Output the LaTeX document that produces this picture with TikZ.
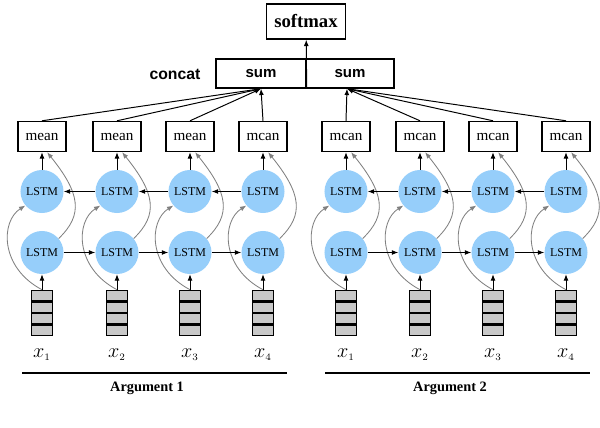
\documentclass[tikz,border=0pt]{standalone}
\usepackage{fontspec}
\setmainfont{Liberation Serif}
\newfontfamily\arialfont{Liberation Sans}
\usetikzlibrary{arrows.meta}
\definecolor{lstmblue}{RGB}{150,206,250}
\definecolor{cellgray}{RGB}{200,200,200}

\begin{document}
\begin{tikzpicture}[x=0.025cm,y=0.025cm,
	arr/.style={-{Latex[length=4.5pt,width=3.5pt]},line width=0.7pt},
	grayarr/.style={-{Latex[length=4.5pt,width=3.5pt]},gray,line width=0.6pt},
	meanbox/.style={draw,line width=1pt,minimum width=1.2cm,minimum height=0.75cm,inner sep=0pt,font=\fontsize{10.8}{12}\selectfont},
	lstm/.style={circle,fill=lstmblue,minimum size=1.075cm,inner sep=0pt,font=\fontsize{8.5}{10}\selectfont},
	sumbox/.style={draw,line width=1pt,minimum height=0.725cm,inner sep=0pt,font=\arialfont\bfseries\fontsize{10.7}{12}\selectfont},
	cell/.style={draw,line width=0.8pt,fill=cellgray}]
	\useasboundingbox (0,0) rectangle (600,428);
	% top of the network
	\node[draw,line width=1pt,minimum width=1.975cm,minimum height=0.875cm,font=\bfseries\fontsize{13.3}{15}\selectfont] (softmax) at (306,406.5) {softmax};
	\node[sumbox,minimum width=2.25cm] (sumL) at (261,354.5) {sum};
	\node[sumbox,minimum width=2.2cm] (sumR) at (350,354.5) {sum};
	\node[font=\arialfont\bfseries\fontsize{11.2}{13}\selectfont] (concat) at (175,354) {concat};
	% one column per word
	\foreach \i/\x/\w/\j in {1/42/mean/1,2/117/mean/2,3/190/mean/3,4/263/mcan/4,5/346/mcan/1,6/420/mcan/2,7/493/mcan/3,8/566/mcan/4} {
		\node[meanbox] (mean\i) at (\x,291.5) {\w};
		\node[lstm] (tl\i) at (\x,236.5) {LSTM};
		\node[lstm] (bl\i) at (\x,175.5) {LSTM};
		\node[minimum width=0.525cm,minimum height=1.15cm,inner sep=0pt] (in\i) at (\x,115) {};
		\foreach \k in {0,...,3} \draw[cell] (\x-10.5,92.5+\k*11.5) rectangle ++(21,10.5);
		\node[font=\fontsize{14}{16}\selectfont] (lab\i) at (\x,73) {$x_{\scriptscriptstyle\j}$};
	}
	% connectors
	\foreach \i in {1,...,8} {
		\draw[arr] (in\i.north) -- (bl\i);
		\draw[arr] (tl\i) -- (mean\i);
		\draw[grayarr] (in\i.north) .. controls +(-42,22) and +(-25,-16) .. (tl\i.220);
		\draw[grayarr] (bl\i.40) .. controls +(25,24) and +(33,-41) .. (mean\i.-72);
	}
	\foreach \i/\j in {1/2,2/3,3/4,5/6,6/7,7/8} {
		\draw[arr] (bl\i) -- (bl\j);
		\draw[arr] (tl\j) -- (tl\i);
	}
	\coordinate (jR) at ([xshift=-0.075cm]sumR.south);
	\foreach \i in {1,...,4} \draw[arr] (mean\i.north) -- (sumL.south);
	\foreach \i in {5,...,8} \draw[arr] (mean\i.north) -- (jR);
	\draw[arr] (sumL.south east) -- (softmax);
	% arguments
	\draw[line width=1.4pt] (22,55) -- (287,55);
	\draw[line width=1.4pt] (325,55) -- (590,55);
	\node[font=\bfseries\fontsize{10.2}{12}\selectfont] (arg1) at (147,40) {Argument 1};
	\node[font=\bfseries\fontsize{10.2}{12}\selectfont] (arg2) at (450,40) {Argument 2};
\end{tikzpicture}
\end{document}
